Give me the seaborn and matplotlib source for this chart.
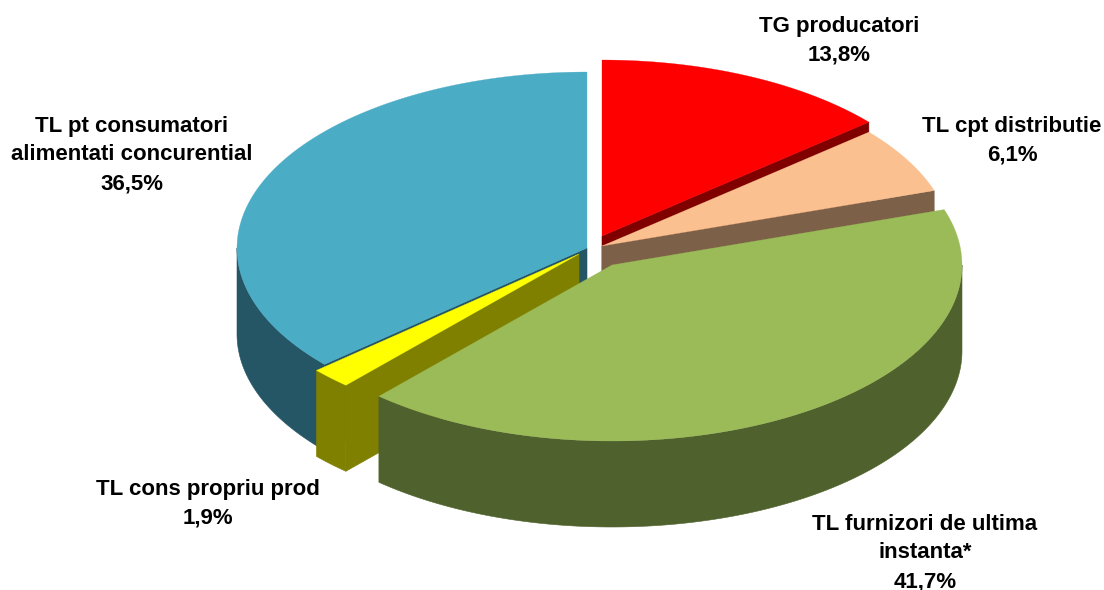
import numpy as np
import matplotlib.pyplot as plt
import seaborn as sns

labels = ["TG producatori", "TL cpt distributie", "TL furnizori de ultima\ninstanta*",
          "TL cons propriu prod", "TL pt consumatori\nalimentati concurential"]
values = [13.8, 6.1, 41.7, 1.9, 36.5]
value_text = ["13,8%", "6,1%", "41,7%", "1,9%", "36,5%"]
top_colors = ["#FF0000", "#FAC090", "#9BBB59", "#FFFF00", "#4BACC6"]
side_colors = ["#800000", "#7D6048", "#4F612C", "#808000", "#255665"]

# centre of each exploded slice, pixels
centers = [(602, 236), (602, 246), (612, 265), (579, 254), (587, 248)]
label_pos = [(839, 41), (1012, 141), (925, 553), (208, 504), (132, 155)]
draw_order = [4, 0, 1, 3, 2]

RX, RY, DEPTH = 350, 176, 86

sns.set_theme(style="white")
plt.rcParams["font.family"] = ["Liberation Sans", "DejaVu Sans"]

fig, ax = plt.subplots(figsize=(11.04, 5.9), dpi=100)
fig.subplots_adjust(0, 0, 1, 1)
ax.set_xlim(0, 1104)
ax.set_ylim(590, 0)
ax.axis("off")

edges = np.radians(np.cumsum([0] + values) * 3.6)


def arc(c, t1, t2):
    t = np.linspace(t1, t2, 200)
    return c[0] + RX * np.sin(t), c[1] - RY * np.cos(t)


def outer(c, t):
    return c[0] + RX * np.sin(t), c[1] - RY * np.cos(t)


def radial_face(c, t, color):
    x, y = outer(c, t)
    ax.fill([c[0], x, x, c[0]], [c[1], y, y + DEPTH, c[1] + DEPTH],
            color=color, lw=0.4)


for i in draw_order:
    c = centers[i]
    t1, t2 = edges[i], edges[i + 1]
    # cut faces, only those turned to the viewer
    if np.sin(t1) < -1e-6:
        radial_face(c, t1, side_colors[i])
    if np.sin(t2) > 1e-6:
        radial_face(c, t2, side_colors[i])
    # outer wall, front half only
    w1, w2 = max(t1, np.pi / 2), min(t2, 3 * np.pi / 2)
    if w1 < w2:
        x, y = arc(c, w1, w2)
        ax.fill(np.r_[x, x[::-1]], np.r_[y, y[::-1] + DEPTH],
                color=side_colors[i], lw=0.4)
    # top
    x, y = arc(c, t1, t2)
    ax.fill(np.r_[c[0], x], np.r_[c[1], y], color=top_colors[i], lw=0.2)

for lab, val, pos in zip(labels, value_text, label_pos):
    ax.text(pos[0], pos[1], lab + "\n" + val, ha="center", va="center",
            fontsize=16, fontweight="bold", color="black",
            linespacing=1.48)

fig.savefig("out.png", dpi=100)
